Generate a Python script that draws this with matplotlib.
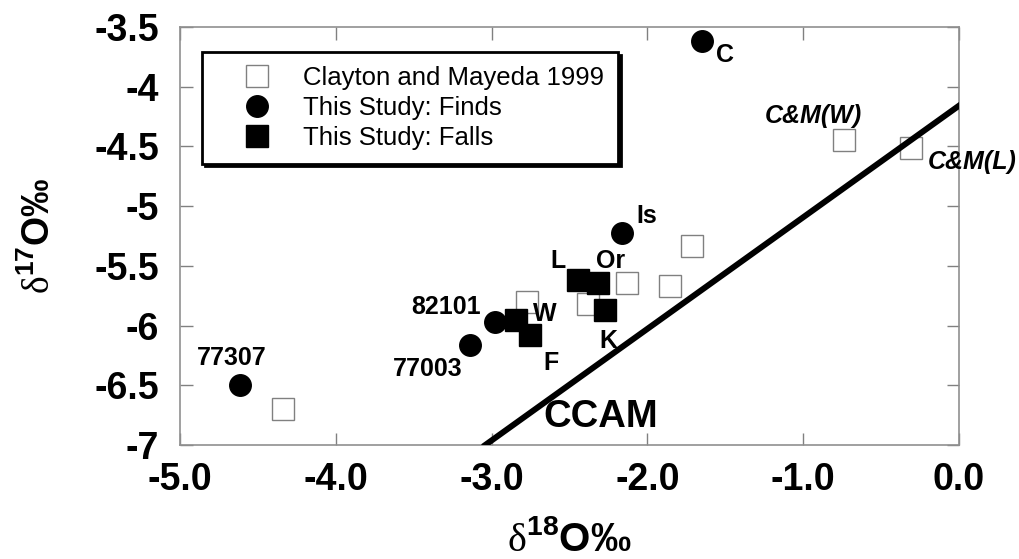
import matplotlib
matplotlib.use("Agg")
import matplotlib.pyplot as plt

plt.rcParams["font.family"] = ["Liberation Sans", "DejaVu Sans"]
plt.rcParams["mathtext.fontset"] = "custom"
plt.rcParams["mathtext.rm"] = "Liberation Serif"
plt.rcParams["mathtext.bf"] = "Liberation Sans:bold"

# Clayton and Mayeda 1999 (open squares)
cm_x = [-4.34, -2.77, -2.38, -2.13, -1.855, -1.71, -0.74, -0.31]
cm_y = [-6.70, -5.80, -5.82, -5.64, -5.67, -5.33, -4.45, -4.51]

# This study: finds (circles)
finds_names = ["77307", "77003", "82101", "Is", "C"]
finds_x = [-4.615, -3.14, -2.98, -2.16, -1.65]
finds_y = [-6.50, -6.16, -5.97, -5.225, -3.62]

# This study: falls (filled squares)
falls_names = ["L", "Or", "K", "W", "F"]
falls_x = [-2.445, -2.317, -2.27, -2.84, -2.75]
falls_y = [-5.62, -5.64, -5.87, -5.955, -6.08]

# CCAM line end points
ccam_x = [-3.04, 0.0]
ccam_y = [-7.0, -4.16]

# point labels and where they sit
labels = ["77307", "77003", "82101", "W", "F", "K", "L", "Or", "Is", "C"]
label_x = [-4.67, -3.41, -3.293, -2.66, -2.62, -2.253, -2.574, -2.237, -2.003, -1.502]
label_y = [-6.275, -6.367, -5.846, -5.90, -6.317, -6.133, -5.4625, -5.4625, -5.083, -3.733]

fig = plt.figure(figsize=(10.2, 5.59), dpi=100)
ax = fig.add_axes([0.1765, 0.204, 0.7635, 0.7477])

ax.plot(cm_x, cm_y, "s", ms=15.5, mfc="white", mec="#808080", mew=1.0,
        label="Clayton and Mayeda 1999", zorder=2)
ax.plot(finds_x, finds_y, "o", ms=15.5, color="black",
        label="This Study: Finds", zorder=3)
ax.plot(falls_x, falls_y, "s", ms=15.5, color="black",
        label="This Study: Falls", zorder=4)
ax.plot(ccam_x, ccam_y, "-", color="black", lw=4.3, zorder=5)

for t, x, y in zip(labels, label_x, label_y):
    ax.text(x, y, t, ha="center", va="center", fontsize=18, fontweight="bold")

ax.text(-0.931, -4.246, "C&M(W)", ha="center", va="center", fontsize=18,
        fontweight="bold", style="italic")
ax.text(0.083, -4.633, "C&M(L)", ha="center", va="center", fontsize=18,
        fontweight="bold", style="italic")
ax.text(-2.298, -6.7625, "CCAM", ha="center", va="center", fontsize=27.5,
        fontweight="bold")

ax.set_xlim(-5.0, 0.0)
ax.set_ylim(-7.0, -3.5)
ax.set_xticks([-5, -4, -3, -2, -1, 0])
ax.set_xticklabels(["-5.0", "-4.0", "-3.0", "-2.0", "-1.0", "0.0"])
ax.set_yticks([-7, -6.5, -6, -5.5, -5, -4.5, -4, -3.5])
ax.set_yticklabels(["-7", "-6.5", "-6", "-5.5", "-5", "-4.5", "-4", "-3.5"])
ax.tick_params(direction="in", top=True, right=True, length=9, width=1,
               color="#808080", labelsize=27, pad=12)
ax.tick_params(axis="y", pad=15)
for lab in ax.get_xticklabels() + ax.get_yticklabels():
    lab.set_fontweight("bold")
for sp in ax.spines.values():
    sp.set_color("#909090")
    sp.set_linewidth(1.2)

ax.set_xlabel(r"$\mathrm{\delta}^{\mathbf{18}}$O‰", fontsize=29,
              fontweight="bold", labelpad=16)
ax.set_ylabel(r"$\mathrm{\delta}^{\mathbf{17}}$O‰", fontsize=27,
              fontweight="bold", labelpad=26)

leg = ax.legend(loc="upper left", bbox_to_anchor=(0.028, 0.94), borderaxespad=0,
                fontsize=18.5, fancybox=False, shadow={"color": "black", "alpha": 1},
                handlelength=3.2, handletextpad=0.2, borderpad=0.55,
                labelspacing=0.22, framealpha=1)
leg.get_frame().set_edgecolor("black")
leg.get_frame().set_linewidth(2)

fig.savefig("out.png", dpi=100)
